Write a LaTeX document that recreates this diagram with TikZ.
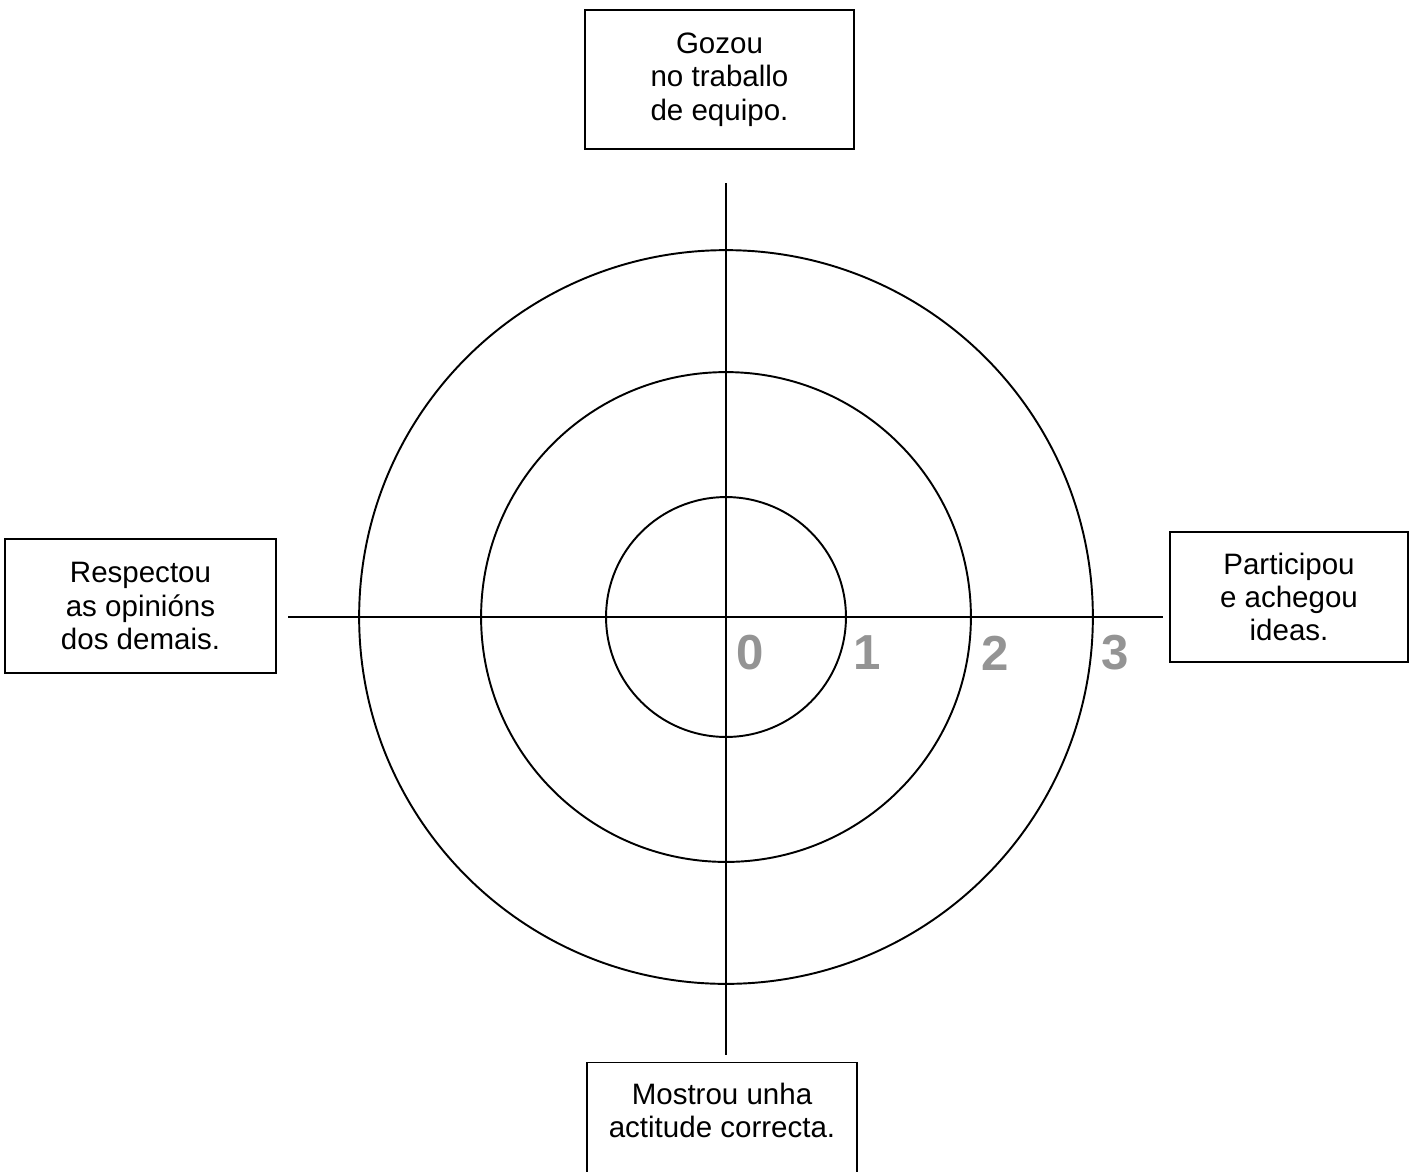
\documentclass[tikz,border=0pt]{standalone}
\usepackage{fontspec}
\setmainfont{Liberation Sans}
\usetikzlibrary{positioning}
\begin{document}
\begin{tikzpicture}[x=0.02cm,y=-0.02cm,
box_style/.style={draw,line width=0.8pt,align=center,inner sep=0pt,
  font=\fontsize{16.8}{19}\selectfont},
ring_style/.style={draw,circle,line width=1.1pt,inner sep=0pt},
axis_style/.style={line width=1.1pt},
score_style/.style={text=black!42,inner sep=0pt,font=\fontsize{28}{30}\selectfont\bfseries}]
\useasboundingbox (0,0) rectangle (1417,1171);

\coordinate (o) at (726,617);
\foreach \r/\n in {120/1,245/2,367/3}{
 \node[ring_style,minimum size=\r*0.04cm] (ring\n) at (o) {};
}

\coordinate (ax_w) at (288,617);
\coordinate (ax_e) at (1163,617);
\coordinate (ax_n) at (726,183);
\coordinate (ax_s) at (726,1055);
\draw[axis_style] (ax_w) -- (ax_e);
\draw[axis_style] (ax_n) -- (ax_s);

\foreach \x/\n in {750/0,867/1,995/2,1115/3}{
 \node[score_style] (score\n) at (\x,653) {\n};
}

\node[box_style,minimum width=5.38cm,minimum height=2.78cm] (top_box) at (719.5,79.5)
  {Gozou\\no traballo\\de equipo.};
\node[box_style,minimum width=5.42cm,minimum height=2.68cm] (left_box) at (140.5,606)
  {Respectou\\as opinións\\dos demais.};
\node[box_style,minimum width=4.76cm,minimum height=2.6cm] (right_box) at (1289,597)
  {Participou\\e achegou\\ideas.};
\node[box_style,minimum width=5.4cm,minimum height=2.78cm,anchor=north] (bottom_box) at (722,1062)
  {Mostrou unha\\actitude correcta.\\\strut};
\end{tikzpicture}
\end{document}
